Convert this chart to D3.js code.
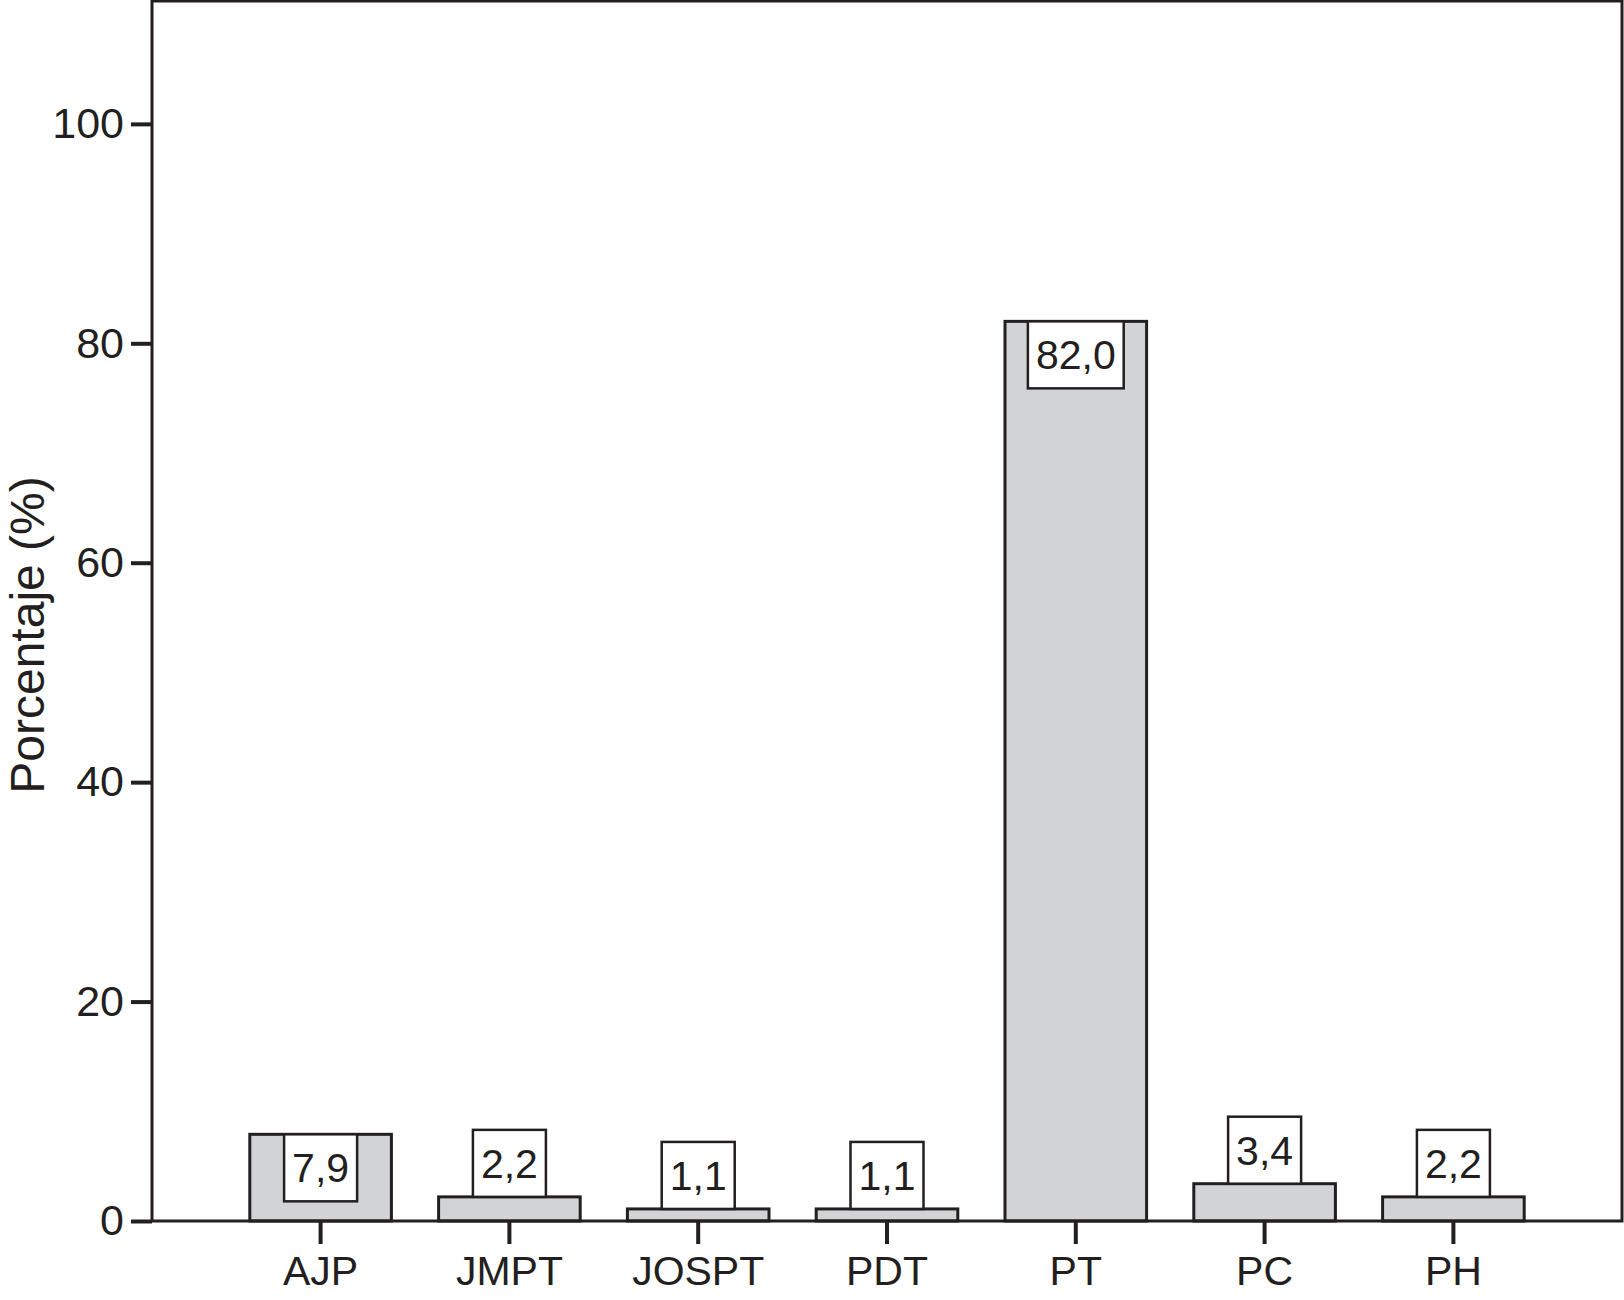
<!DOCTYPE html>
<html>
<head>
<meta charset="utf-8">
<script src="https://cdn.jsdelivr.net/npm/d3@7"></script>
<style>
  body { margin: 0; background: #fff; }
  text { font-family: "Liberation Sans", Arial, Helvetica, sans-serif; fill: #231f20; }
</style>
</head>
<body>
<svg class="chart"></svg>
<script>
var categories = ['AJP', 'JMPT', 'JOSPT', 'PDT', 'PT', 'PC', 'PH'];
var values = [7.9, 2.2, 1.1, 1.1, 82.0, 3.4, 2.2];
var valueLabels = ['7,9', '2,2', '1,1', '1,1', '82,0', '3,4', '2,2'];
var yTicks = [0, 20, 40, 60, 80, 100];

var width = 1624, height = 1300;
var ink = '#231f20';

// plot frame in page pixels
var plot = { left: 152, right: 1622, top: 1, bottom: 1221 };

var svg = d3.select('.chart')
    .attr('width', width)
    .attr('height', height);

var y = d3.scaleLinear()
    .domain([0, 111.2])
    .range([plot.bottom, plot.top]);

var x = d3.scaleBand()
    .domain(categories)
    .range([plot.left, plot.right])
    .paddingInner(0.25)
    .paddingOuter(0.518);

// bars
svg.selectAll('.bar')
    .data(categories)
  .enter().append('rect')
    .attr('class', 'bar')
    .attr('x', function(d) { return x(d); })
    .attr('y', function(d, i) { return y(values[i]); })
    .attr('width', x.bandwidth())
    .attr('height', function(d, i) { return y(0) - y(values[i]); })
    .attr('fill', '#d1d3d4')
    .attr('stroke', ink)
    .attr('stroke-width', 3);

// frame
svg.append('rect')
    .attr('x', plot.left)
    .attr('y', plot.top)
    .attr('width', plot.right - plot.left)
    .attr('height', plot.bottom - plot.top)
    .attr('fill', 'none')
    .attr('stroke', ink)
    .attr('stroke-width', 3);

// y axis
var yAxis = d3.axisLeft(y)
    .tickValues(yTicks)
    .tickSize(21)
    .tickPadding(7);

var yg = svg.append('g')
    .attr('transform', `translate(${plot.left}, 0)`)
    .call(yAxis);
yg.select('.domain').remove();
yg.selectAll('line').attr('stroke', ink).attr('stroke-width', 4);
yg.selectAll('text')
    .attr('font-size', 43)
    .attr('font-family', '"Liberation Sans", Arial, sans-serif')
    .attr('fill', ink);

// x axis
var xAxis = d3.axisBottom(x)
    .tickSize(23)
    .tickPadding(12);

var xg = svg.append('g')
    .attr('transform', `translate(0, ${plot.bottom})`)
    .call(xAxis);
xg.select('.domain').remove();
xg.selectAll('line').attr('stroke', ink).attr('stroke-width', 4);
xg.selectAll('text')
    .attr('font-size', 41)
    .attr('font-family', '"Liberation Sans", Arial, sans-serif')
    .attr('fill', ink);

// y title
svg.append('text')
    .attr('transform', 'translate(44, 635) rotate(-90)')
    .attr('text-anchor', 'middle')
    .attr('font-size', 48)
    .text('Porcentaje (%)');

// value boxes
var boxH = 67;
var labels = svg.selectAll('.lab')
    .data(categories)
  .enter().append('g')
    .attr('class', 'lab');

labels.each(function(d, i) {
    var g = d3.select(this);
    var cx = x(d) + x.bandwidth() / 2;
    var barTop = y(values[i]);
    var inside = (y(0) - barTop) > boxH + 10;
    var boxTop = inside ? barTop : barTop - boxH;

    var rect = g.append('rect');
    var t = g.append('text')
        .attr('x', cx)
        .attr('y', boxTop + 48)
        .attr('text-anchor', 'middle')
        .attr('font-size', 41)
        .text(valueLabels[i]);
    var w = t.node().getComputedTextLength() + 16;
    rect.attr('x', cx - w / 2)
        .attr('y', boxTop)
        .attr('width', w)
        .attr('height', boxH)
        .attr('fill', '#fff')
        .attr('stroke', ink)
        .attr('stroke-width', 2.5);
});
</script>
</body>
</html>
